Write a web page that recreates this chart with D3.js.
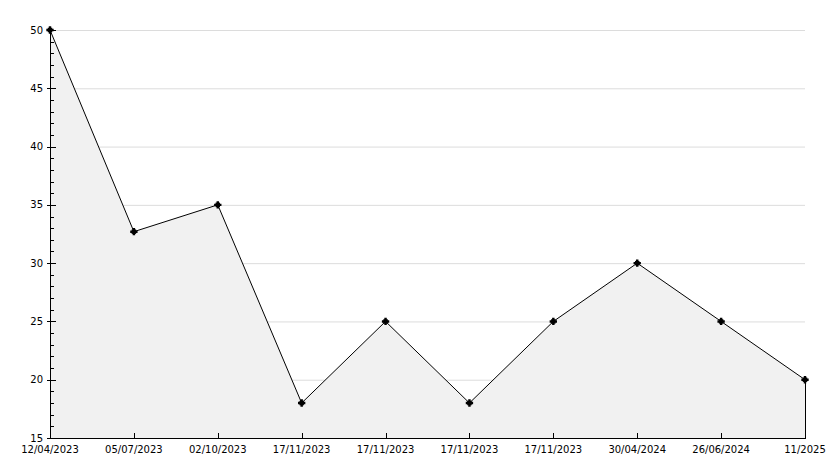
<!DOCTYPE html>
<html><head><meta charset="utf-8">
<script src="https://cdn.jsdelivr.net/npm/d3@7"></script>
<style>body{margin:0;background:#fff}svg{display:block}text{font-family:"DejaVu Sans",sans-serif;font-size:10px;fill:#000}</style>
</head><body><svg id="c" width="834" height="468"></svg>
<script>
const categories = ["12/04/2023","05/07/2023","02/10/2023","17/11/2023","17/11/2023","17/11/2023","17/11/2023","30/04/2024","26/06/2024","11/2025"];
const values = [50, 32.7, 35, 18, 25, 18, 25, 30, 25, 20];
const yTicks = [15, 20, 25, 30, 35, 40, 45, 50];

const svg = d3.select("#c");
const L = 50, R = 805, T = 30, B = 438;
const x = d3.scalePoint().domain(d3.range(categories.length)).range([L, R]);
const y = d3.scaleLinear().domain([15, 50]).range([B, T]);

// grid
svg.append("g").selectAll("line").data(yTicks.filter(d => d > 15)).join("line")
  .attr("x1", L).attr("x2", R).attr("y1", d => y(d) + 0.5).attr("y2", d => y(d) + 0.5)
  .attr("stroke", "#dcdcdc").attr("stroke-width", 1);

// area
const area = d3.area().x((d, i) => x(i)).y0(B).y1(d => y(d));
svg.append("path").datum(values).attr("d", area).attr("fill", "#f1f1f1");
// line
const line = d3.line().x((d, i) => x(i)).y(d => y(d));
svg.append("path").datum(values).attr("d", line).attr("fill", "none").attr("stroke", "#000").attr("stroke-width", 1);
// right edge
svg.append("line").attr("x1", x(values.length - 1) + 0.5).attr("x2", x(values.length - 1) + 0.5)
  .attr("y1", y(values[values.length - 1])).attr("y2", B).attr("stroke", "#000");

// markers
const mk = svg.append("g");
values.forEach((v, i) => {
  const g = mk.append("g").attr("transform", `translate(${x(i)},${y(v)})`);
  g.append("path").attr("d", d3.symbol(d3.symbolCross, 30)()).attr("fill", "#000");
  g.append("path").attr("d", d3.symbol(d3.symbolSquare, 20)()).attr("fill", "#000");
});

// y axis
const ya = svg.append("g");
ya.append("line").attr("x1", L + 0.5).attr("x2", L + 0.5).attr("y1", T).attr("y2", B).attr("stroke", "#000");
const minor = d3.range(15, 50.01, 1).filter(d => d % 5 !== 0);
ya.selectAll(".mn").data(minor).join("line")
  .attr("x1", L).attr("x2", L + 4).attr("y1", d => Math.round(y(d)) + 0.5).attr("y2", d => Math.round(y(d)) + 0.5).attr("stroke", "#000");
ya.selectAll(".mj").data(yTicks).join("line")
  .attr("x1", L - 3).attr("x2", L + 6).attr("y1", d => Math.round(y(d)) + 0.5).attr("y2", d => Math.round(y(d)) + 0.5).attr("stroke", "#000");
ya.selectAll("text").data(yTicks).join("text")
  .attr("x", L - 7).attr("y", d => y(d)).attr("dy", "0.35em").attr("text-anchor", "end").text(d => d);

// x axis
const xa = svg.append("g");
xa.append("line").attr("x1", L).attr("x2", R + 1).attr("y1", B + 0.5).attr("y2", B + 0.5).attr("stroke", "#000");
xa.selectAll(".tk").data(d3.range(categories.length)).join("line")
  .attr("x1", i => Math.round(x(i)) + 0.5).attr("x2", i => Math.round(x(i)) + 0.5)
  .attr("y1", B - 5).attr("y2", B).attr("stroke", "#000");
xa.selectAll("text").data(categories).join("text")
  .attr("x", (d, i) => x(i)).attr("y", B + 11).attr("dy", "0.35em").attr("text-anchor", "middle").text(d => d);
</script></body></html>
